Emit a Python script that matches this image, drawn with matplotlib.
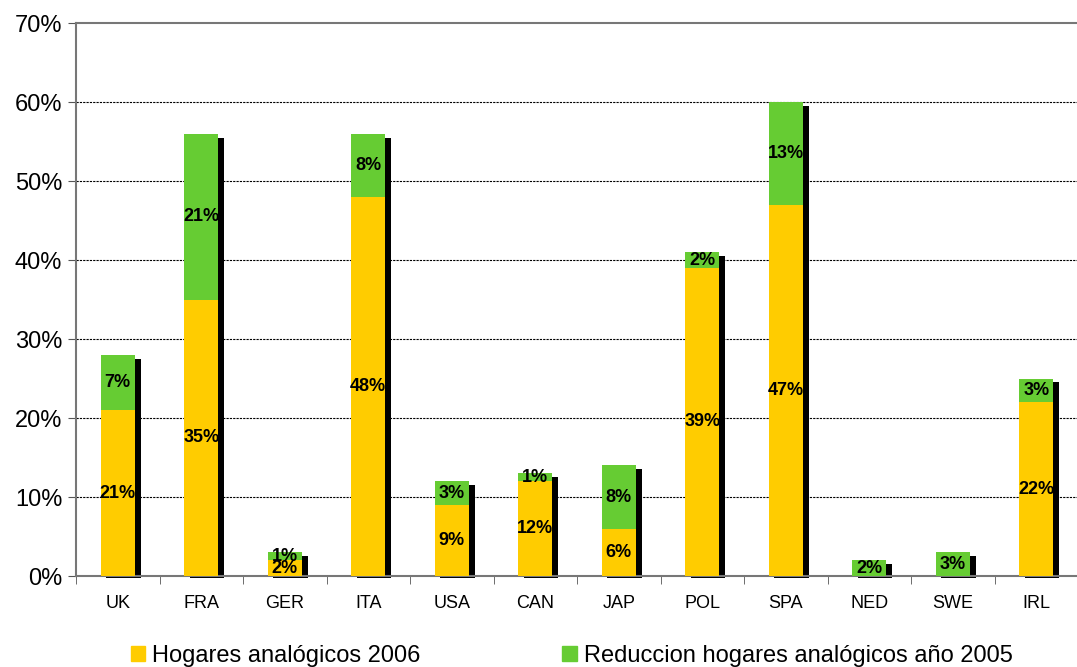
import matplotlib.pyplot as plt
import numpy as np
from matplotlib.patches import Rectangle

plt.rcParams['font.family'] = ['Liberation Sans', 'DejaVu Sans']

paises = ['UK', 'FRA', 'GER', 'ITA', 'USA', 'CAN', 'JAP', 'POL', 'SPA', 'NED', 'SWE', 'IRL']
hogares_2006 = [21, 35, 2, 48, 9, 12, 6, 39, 47, 0, 0, 22]
reduccion_2005 = [7, 21, 1, 8, 3, 1, 8, 2, 13, 2, 3, 3]

amarillo = '#FFCC00'
verde = '#66CC33'

fig = plt.figure(figsize=(10.77, 6.67), dpi=100)
ax = fig.add_axes([0.0706, 0.1364, 0.9304, 0.8291])

x = np.arange(len(paises))
base = np.array(hogares_2006)
top = np.array(reduccion_2005)
total = base + top
ancho = 0.41

# sombra negra detras de cada barra
sombra = ax.bar(x + 0.068, np.maximum(total - 0.2, 0), width=ancho, bottom=-0.3,
                color='black', zorder=2)
for b in sombra:
    b.set_clip_on(False)
ax.bar(x, base, width=ancho, color=amarillo, zorder=3)
ax.bar(x, top, width=ancho, bottom=base, color=verde, zorder=3)

for i in range(len(paises)):
    if hogares_2006[i] > 0:
        ax.text(x[i], hogares_2006[i] / 2, f'{hogares_2006[i]}%', ha='center', va='center',
                fontsize=13, fontweight='bold', zorder=4)
    ax.text(x[i], hogares_2006[i] + reduccion_2005[i] / 2, f'{reduccion_2005[i]}%',
            ha='center', va='center', fontsize=13, fontweight='bold', zorder=4)

ax.set_xlim(-0.5, len(paises) - 0.5)
ax.set_ylim(0, 70)
ax.set_yticks(np.arange(0, 71, 10))
ax.set_yticklabels([f'{v}%' for v in range(0, 71, 10)], fontsize=17)
for v in range(10, 70, 10):
    ax.axhline(v, color='black', lw=0.8, ls=(0, (2, 1)), zorder=1)

ax.set_xticks(x)
ax.set_xticklabels(paises, fontsize=13)
ax.set_xticks(np.arange(-0.5, len(paises), 1), minor=True)
ax.tick_params(axis='x', which='major', length=0, pad=14)
ax.tick_params(axis='x', which='minor', length=6, direction='out', color='#555555')
ax.tick_params(axis='y', length=6, direction='out', color='#555555', pad=4)

for s in ['left', 'bottom', 'top']:
    ax.spines[s].set_color('#777777')
    ax.spines[s].set_linewidth(1.5)
ax.spines['right'].set_visible(False)

handles = [Rectangle((0, 0), 1, 1, color=amarillo), Rectangle((0, 0), 1, 1, color=verde)]
fig.legend(handles, ['Hogares analógicos 2006', 'Reduccion hogares analógicos año 2005'],
           loc='center', bbox_to_anchor=(0.531, 0.017), ncol=2, frameon=False, fontsize=17,
           handlelength=0.6, handleheight=0.6, handletextpad=0.3, columnspacing=6.0,
           borderaxespad=0, borderpad=0)

fig.savefig('out.png', dpi=100)
